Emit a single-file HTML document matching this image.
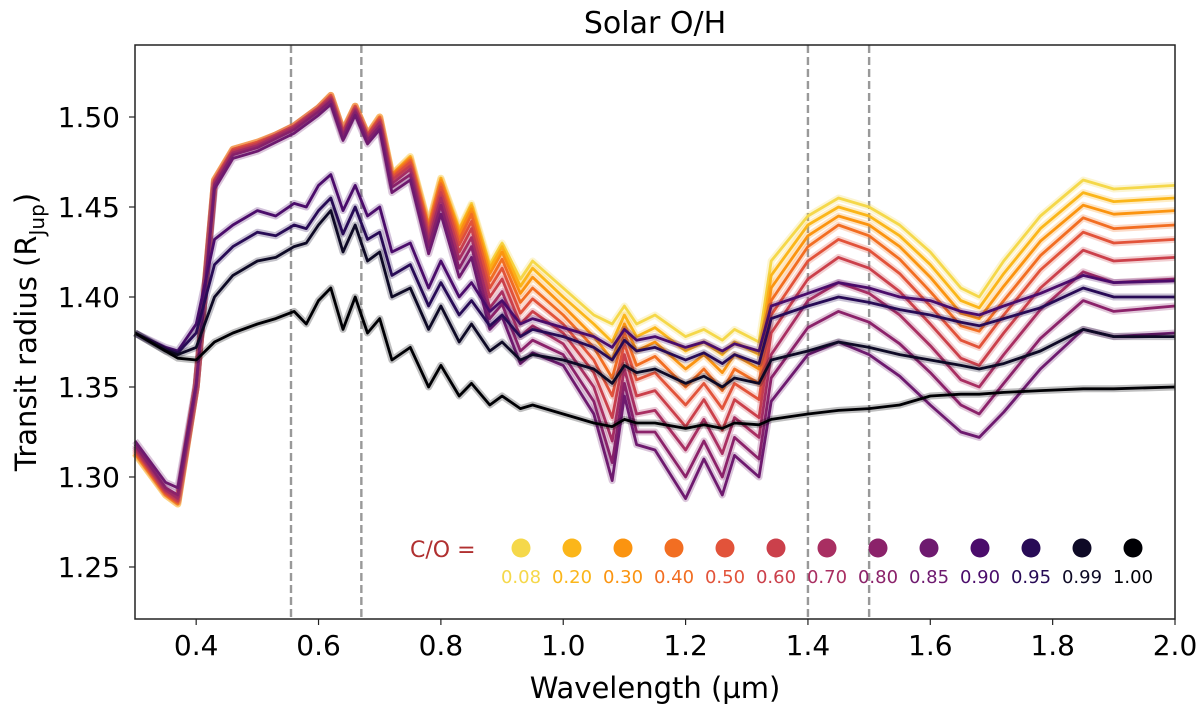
<!DOCTYPE html>
<html><head><meta charset="utf-8"><style>
body{margin:0;background:#fff;}
svg text{font-family:"DejaVu Sans","Liberation Sans",sans-serif;}
</style></head><body>
<svg id="chart" width="1200" height="714" viewBox="0 0 1200 714" xmlns="http://www.w3.org/2000/svg">
<text x="655" y="33" font-size="30" text-anchor="middle">Solar O/H</text>
<g id="grid"></g>
<g id="series"></g>
<rect x="135" y="45" width="1040" height="574" fill="none" stroke="#222" stroke-width="1.5"/>
<g id="axes"></g>
<text transform="translate(36,332) rotate(-90)" font-size="29" text-anchor="middle">Transit radius (R<tspan font-size="20" dy="8">Jup</tspan><tspan dy="-8">)</tspan></text>
<text x="655" y="698" font-size="29" text-anchor="middle">Wavelength (µm)</text>
<g id="legend"></g>
</svg>
<script>
const wl=[0.30,0.35,0.37,0.40,0.43,0.46,0.50,0.53,0.56,0.58,0.60,0.62,0.64,0.66,0.68,0.70,0.72,0.75,0.78,0.80,0.83,0.85,0.88,0.90,0.93,0.95,1.00,1.05,1.08,1.10,1.12,1.15,1.20,1.23,1.26,1.28,1.32,1.34,1.40,1.45,1.50,1.55,1.60,1.65,1.68,1.72,1.78,1.85,1.90,2.00];
const coLabels=["0.08","0.20","0.30","0.40","0.50","0.60","0.70","0.80","0.85","0.90","0.95","0.99","1.00"];
const colors=["#f5d84a","#fbb61a","#fb9410","#f26e22","#e2533a","#cb404b","#a92f62","#8b226a","#6e1a6f","#4b0c6b","#280b56","#0e0a26","#000004"];
const s008=[1.313,1.290,1.285,1.350,1.465,1.482,1.486,1.490,1.495,1.500,1.505,1.512,1.492,1.506,1.490,1.500,1.468,1.478,1.440,1.466,1.438,1.452,1.418,1.430,1.410,1.420,1.405,1.390,1.385,1.395,1.385,1.390,1.378,1.382,1.376,1.382,1.375,1.420,1.445,1.455,1.450,1.440,1.425,1.405,1.400,1.420,1.445,1.465,1.460,1.462];
const s020=[1.313,1.290,1.285,1.350,1.465,1.482,1.486,1.490,1.495,1.500,1.505,1.512,1.492,1.506,1.490,1.500,1.468,1.478,1.440,1.466,1.437,1.451,1.416,1.428,1.406,1.416,1.400,1.385,1.375,1.390,1.378,1.383,1.370,1.375,1.368,1.375,1.368,1.412,1.440,1.450,1.445,1.434,1.418,1.398,1.394,1.413,1.438,1.458,1.453,1.455];
const s030=[1.313,1.290,1.285,1.350,1.465,1.482,1.486,1.490,1.495,1.500,1.505,1.512,1.492,1.506,1.490,1.500,1.468,1.477,1.439,1.465,1.435,1.449,1.413,1.425,1.402,1.411,1.395,1.378,1.365,1.385,1.370,1.375,1.360,1.368,1.358,1.368,1.360,1.405,1.434,1.445,1.440,1.428,1.411,1.391,1.388,1.406,1.431,1.451,1.446,1.448];
const s040=[1.314,1.291,1.286,1.350,1.465,1.482,1.486,1.490,1.495,1.500,1.505,1.512,1.492,1.506,1.490,1.500,1.467,1.476,1.438,1.463,1.432,1.446,1.409,1.421,1.397,1.405,1.390,1.372,1.355,1.380,1.362,1.367,1.350,1.360,1.348,1.360,1.352,1.398,1.428,1.440,1.434,1.421,1.403,1.384,1.381,1.398,1.423,1.444,1.438,1.440];
const s050=[1.315,1.291,1.286,1.350,1.465,1.482,1.486,1.490,1.495,1.500,1.505,1.512,1.492,1.506,1.490,1.499,1.466,1.475,1.436,1.461,1.429,1.442,1.405,1.416,1.391,1.399,1.385,1.365,1.345,1.374,1.354,1.358,1.340,1.352,1.338,1.352,1.343,1.390,1.420,1.432,1.426,1.413,1.395,1.376,1.372,1.390,1.415,1.436,1.430,1.432];
const s060=[1.316,1.292,1.287,1.350,1.464,1.481,1.485,1.490,1.495,1.500,1.505,1.511,1.491,1.505,1.489,1.498,1.465,1.473,1.434,1.458,1.425,1.438,1.400,1.410,1.385,1.392,1.380,1.358,1.333,1.368,1.345,1.348,1.328,1.343,1.326,1.343,1.333,1.380,1.410,1.422,1.416,1.403,1.385,1.366,1.362,1.380,1.405,1.426,1.420,1.422];
const s070=[1.317,1.293,1.288,1.350,1.463,1.480,1.484,1.489,1.494,1.499,1.504,1.510,1.490,1.504,1.488,1.497,1.463,1.471,1.431,1.455,1.421,1.433,1.394,1.403,1.378,1.384,1.374,1.350,1.320,1.360,1.335,1.337,1.315,1.332,1.313,1.333,1.322,1.368,1.398,1.408,1.402,1.390,1.373,1.354,1.350,1.368,1.393,1.414,1.408,1.410];
const s080=[1.318,1.294,1.290,1.350,1.462,1.479,1.483,1.488,1.493,1.498,1.503,1.509,1.489,1.503,1.487,1.495,1.461,1.468,1.428,1.451,1.416,1.428,1.388,1.396,1.370,1.376,1.368,1.342,1.308,1.352,1.325,1.325,1.300,1.320,1.300,1.322,1.310,1.355,1.383,1.392,1.386,1.374,1.358,1.340,1.335,1.352,1.377,1.398,1.392,1.395];
const s085=[1.320,1.297,1.294,1.352,1.460,1.477,1.481,1.486,1.491,1.496,1.501,1.507,1.487,1.501,1.485,1.493,1.458,1.465,1.424,1.446,1.411,1.422,1.382,1.389,1.363,1.369,1.362,1.335,1.298,1.345,1.318,1.315,1.288,1.310,1.290,1.312,1.300,1.342,1.368,1.375,1.368,1.356,1.340,1.325,1.322,1.336,1.360,1.382,1.378,1.380];
const s090=[1.380,1.372,1.370,1.385,1.432,1.440,1.448,1.445,1.452,1.450,1.462,1.468,1.448,1.462,1.445,1.450,1.425,1.430,1.405,1.420,1.400,1.408,1.392,1.398,1.385,1.388,1.383,1.378,1.372,1.382,1.376,1.378,1.372,1.375,1.370,1.374,1.370,1.395,1.402,1.408,1.405,1.400,1.398,1.392,1.390,1.395,1.402,1.412,1.408,1.409];
const s095=[1.380,1.371,1.369,1.380,1.418,1.428,1.436,1.434,1.440,1.438,1.448,1.455,1.435,1.450,1.432,1.436,1.412,1.418,1.395,1.408,1.390,1.398,1.384,1.390,1.378,1.382,1.378,1.372,1.365,1.376,1.370,1.372,1.365,1.369,1.363,1.368,1.363,1.388,1.395,1.400,1.397,1.393,1.390,1.386,1.384,1.388,1.394,1.405,1.400,1.400];
const s099=[1.380,1.370,1.368,1.372,1.400,1.412,1.420,1.422,1.428,1.430,1.440,1.448,1.425,1.440,1.420,1.425,1.400,1.405,1.382,1.395,1.375,1.385,1.370,1.375,1.365,1.368,1.365,1.360,1.352,1.362,1.358,1.360,1.352,1.356,1.350,1.355,1.352,1.365,1.370,1.375,1.372,1.368,1.365,1.362,1.360,1.363,1.370,1.382,1.378,1.378];
const s100=[1.380,1.370,1.366,1.365,1.375,1.380,1.385,1.388,1.392,1.385,1.398,1.405,1.382,1.400,1.380,1.388,1.365,1.372,1.350,1.362,1.345,1.352,1.340,1.345,1.338,1.340,1.335,1.330,1.328,1.332,1.330,1.330,1.327,1.329,1.327,1.330,1.329,1.332,1.335,1.337,1.338,1.340,1.345,1.346,1.346,1.347,1.348,1.349,1.349,1.350];
const seriesList=[s008,s020,s030,s040,s050,s060,s070,s080,s085,s090,s095,s099,s100];
const xTicks=[0.4,0.6,0.8,1.0,1.2,1.4,1.6,1.8,2.0];
const yTicks=[1.25,1.30,1.35,1.40,1.45,1.50];
const dashedLines=[0.555,0.67,1.40,1.50];

const NS="http://www.w3.org/2000/svg";
const X0=135,X1=1175,Y0=45,Y1=619,xMin=0.3,xMax=2.0,yMin=1.2211,yMax=1.540;
const xs=v=>X0+(v-xMin)/(xMax-xMin)*(X1-X0);
const ys=v=>Y1-(v-yMin)/(yMax-yMin)*(Y1-Y0);
function mk(tag,attrs,parent){const e=document.createElementNS(NS,tag);for(const k in attrs)e.setAttribute(k,attrs[k]);parent.appendChild(e);return e;}
const grid=document.getElementById('grid'),ser=document.getElementById('series'),axes=document.getElementById('axes'),leg=document.getElementById('legend');
dashedLines.forEach(d=>{
  const l=mk('line',{x1:xs(d),x2:xs(d),y1:Y0,y2:Y1,stroke:'#999',"stroke-width":2.4,"stroke-dasharray":"8,4"},grid);
  
  
});
seriesList.forEach((s,i)=>{
  const pts=s.map((v,j)=>xs(wl[j]).toFixed(1)+','+ys(v).toFixed(1)).join(' ');
  const band=mk('polyline',{points:pts,fill:'none',stroke:colors[i],"stroke-width":7,"stroke-opacity":0.25,"stroke-linejoin":"round"},ser);
  
  
  const p=mk('polyline',{points:pts,fill:'none',stroke:colors[i],"stroke-width":2.8,"stroke-linejoin":"round"},ser);
  
  
});
xTicks.forEach(t=>{
  mk('line',{x1:xs(t),x2:xs(t),y1:Y1,y2:Y1+6,stroke:'#222',"stroke-width":1.2},axes);
  const tx=mk('text',{x:xs(t),y:Y1+36,"font-size":28,"text-anchor":"middle"},axes);
  tx.textContent=t.toFixed(1);
  
  
});
yTicks.forEach(t=>{
  mk('line',{x1:X0-6,x2:X0,y1:ys(t),y2:ys(t),stroke:'#222',"stroke-width":1.2},axes);
  const tx=mk('text',{x:X0-15,y:ys(t)+10,"font-size":28,"text-anchor":"end"},axes);
  tx.textContent=t.toFixed(2);
  
  
});
const lt=mk('text',{x:410,y:557,"font-size":22,fill:'#b03030'},leg);
lt.textContent='C/O =';


coLabels.forEach((c,i)=>{
  const cx=521+i*51;
  const d=mk('circle',{cx:cx,cy:548,r:9.5,fill:colors[i]},leg);
  
  
  const t=mk('text',{x:cx,y:583,"font-size":18,"text-anchor":"middle",fill:colors[i]},leg);
  t.textContent=c;
  
  
});
</script>
</body></html>
